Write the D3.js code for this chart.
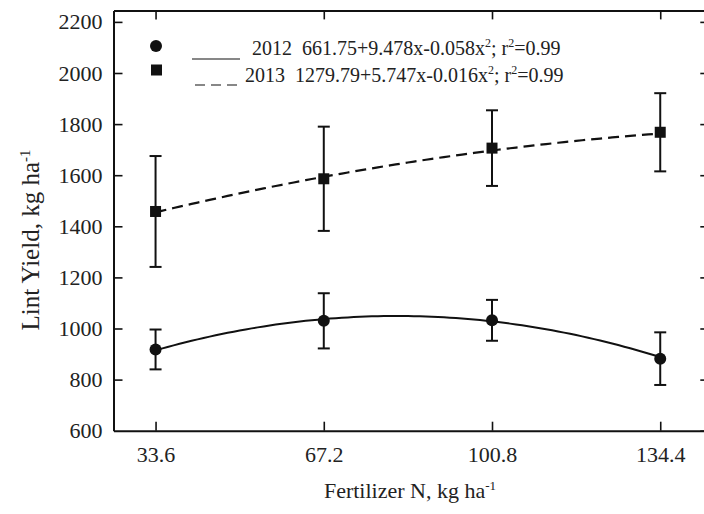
<html>
  <head>
    <script src="https://d3js.org/d3.v7.min.js"></script>
      <style>
          body { margin: 0; background: #fff; }
          text { font-family: "Liberation Serif", "Times New Roman", serif; fill: #222; }
      </style>
  </head>
  <body>
    <script>
        // chart values
        var nRates = [33.6, 67.2, 100.8, 134.4];
        var yield2012 = [918, 1030, 1032, 882];
        var err2012 = [78, 108, 80, 103];
        var yield2013 = [1458, 1586, 1706, 1768];
        var err2013 = [217, 204, 148, 153];
        // regression coefficients from the legend (a + b x + c x^2)
        var fit2012 = [661.75, 9.478, -0.058];
        var fit2013 = [1279.79, 5.747, -0.016];
        var yTicks = [600, 800, 1000, 1200, 1400, 1600, 1800, 2000, 2200];

        var width = 704, height = 514;
        var svg = d3.select("body").append("svg")
            .attr("width", width)
            .attr("height", height);

        var x = d3.scaleLinear().domain([25.2, 144.2]).range([113.5, 709.3]);
        var y = d3.scaleLinear().domain([600, 2245]).range([430.7, 10.4]);

        // axes, ticks pointing inward
        var gx = svg.append("g").attr("transform", "translate(0," + y(600) + ")")
            .call(d3.axisBottom(x).tickValues(nRates).tickFormat(d3.format(".1f"))
                .tickSizeInner(-9).tickSizeOuter(0).tickPadding(16));
        var gxt = svg.append("g").attr("transform", "translate(0," + y(2245) + ")")
            .call(d3.axisTop(x).tickValues(nRates).tickFormat("")
                .tickSizeInner(-9).tickSizeOuter(0));
        var gy = svg.append("g").attr("transform", "translate(" + x(25.2) + ",0)")
            .call(d3.axisLeft(y).tickValues(yTicks).tickFormat(d3.format("d"))
                .tickSizeInner(-9).tickSizeOuter(0).tickPadding(11));
        var gyr = svg.append("g").attr("transform", "translate(" + x(144.2) + ",0)")
            .call(d3.axisRight(y).tickValues(yTicks).tickFormat("")
                .tickSizeInner(-9).tickSizeOuter(0));

        [gx, gxt, gy, gyr].forEach(function (g) {
            g.select(".domain").attr("stroke", "#111").attr("stroke-width", 2);
            g.selectAll(".tick line").attr("stroke", "#111").attr("stroke-width", 1.6);
            g.selectAll("text")
                .style("font-family", "'Liberation Serif', serif")
                .style("font-size", "22px")
                .attr("fill", "#222");
        });
        gy.select(".tick:first-of-type line").remove();

        // fitted curves from the legend equations
        function curvePts(c) {
            var pts = [];
            for (var v = nRates[0]; v <= nRates[3] + 0.001; v += 1.2) {
                pts.push([v, c[0] + c[1] * v + c[2] * v * v]);
            }
            return pts;
        }
        var line = d3.line()
            .x(function (d) { return x(d[0]); })
            .y(function (d) { return y(d[1]); });

        svg.append("path").attr("d", line(curvePts(fit2012)))
            .attr("fill", "none").attr("stroke", "#111").attr("stroke-width", 2);
        svg.append("path").attr("d", line(curvePts(fit2013)))
            .attr("fill", "none").attr("stroke", "#111").attr("stroke-width", 2.2)
            .attr("stroke-dasharray", "11,6");

        // error bars
        function errBars(vals, errs) {
            var g = svg.append("g").attr("stroke", "#111").attr("stroke-width", 2);
            nRates.forEach(function (n, i) {
                var top = y(vals[i] + errs[i]), bot = y(vals[i] - errs[i]);
                g.append("line").attr("x1", x(n)).attr("x2", x(n)).attr("y1", top).attr("y2", bot);
                g.append("line").attr("x1", x(n) - 6).attr("x2", x(n) + 6).attr("y1", top).attr("y2", top);
                g.append("line").attr("x1", x(n) - 6).attr("x2", x(n) + 6).attr("y1", bot).attr("y2", bot);
            });
        }
        errBars(yield2012, err2012);
        errBars(yield2013, err2013);

        svg.append("g").selectAll("circle")
            .data(yield2012)
            .enter().append("circle")
            .attr("cx", function (d, i) { return x(nRates[i]); })
            .attr("cy", function (d) { return y(d); })
            .attr("r", 6)
            .attr("fill", "#111");

        svg.append("g").selectAll("rect")
            .data(yield2013)
            .enter().append("rect")
            .attr("x", function (d, i) { return x(nRates[i]) - 5.5; })
            .attr("y", function (d) { return y(d) - 5.5; })
            .attr("width", 11)
            .attr("height", 11)
            .attr("fill", "#111");

        // legend
        var leg = svg.append("g");
        leg.append("circle").attr("cx", 156).attr("cy", 46).attr("r", 6).attr("fill", "#111");
        leg.append("rect").attr("x", 151).attr("y", 64.5).attr("width", 11).attr("height", 11).attr("fill", "#111");
        leg.append("line").attr("x1", 192).attr("x2", 240).attr("y1", 59).attr("y2", 59)
            .attr("stroke", "#111").attr("stroke-width", 1.2);
        leg.append("line").attr("x1", 195).attr("x2", 237).attr("y1", 85).attr("y2", 85)
            .attr("stroke", "#111").attr("stroke-width", 1.2).attr("stroke-dasharray", "10,6");

        function eqText(yr, c, xYear, xEq, yb) {
            leg.append("text").attr("x", xYear).attr("y", yb).style("font-size", "20px").text(yr);
            var t = leg.append("text").attr("x", xEq).attr("y", yb).style("font-size", "20px");
            t.append("tspan").text(c[0] + "+" + c[1].toFixed(3) + "x" + c[2].toFixed(3) + "x");
            t.append("tspan").attr("dy", -8).style("font-size", "12px").text("2");
            t.append("tspan").attr("dy", 8).text("; r");
            t.append("tspan").attr("dy", -8).style("font-size", "12px").text("2");
            t.append("tspan").attr("dy", 8).text("=0.99");
        }
        eqText("2012", fit2012, 252, 302, 55);
        eqText("2013", fit2013, 245, 295, 82);

        // axis titles
        var xt = svg.append("text")
            .attr("x", 410).attr("y", 498)
            .attr("text-anchor", "middle")
            .style("font-size", "22px");
        xt.append("tspan").text("Fertilizer N, kg ha");
        xt.append("tspan").attr("dy", -8).style("font-size", "13px").text("-1");

        var yt = svg.append("text")
            .attr("transform", "translate(39,240) rotate(-90)")
            .attr("text-anchor", "middle")
            .style("font-size", "25px");
        yt.append("tspan").text("Lint Yield, kg ha");
        yt.append("tspan").attr("dy", -9).style("font-size", "15px").text("-1");
    </script>
  </body>
</html>
